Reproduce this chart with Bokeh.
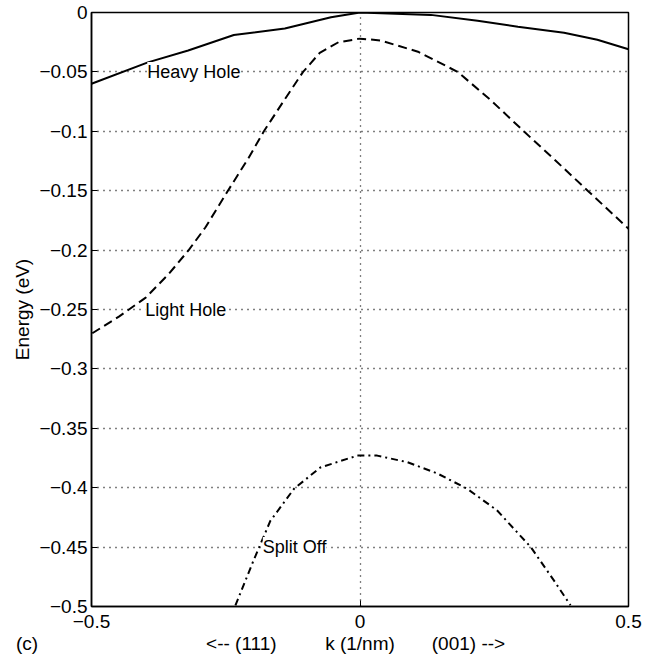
from bokeh.plotting import figure
from bokeh.models import FixedTicker, Label, Range1d, LinearAxis
from bokeh.embed import file_html
from bokeh.resources import INLINE

# ---- data ----
hh_k = [-0.5, -0.395, -0.32, -0.235, -0.14, -0.054, 0.0, 0.132, 0.219, 0.294, 0.38, 0.442, 0.5]
hh_E = [-0.060, -0.042, -0.032, -0.019, -0.0135, -0.004, 0.0, -0.002, -0.007, -0.012, -0.017, -0.023, -0.031]

lh_k = [-0.4985, -0.449, -0.399, -0.356, -0.319, -0.288, -0.250, -0.207, -0.179, -0.140, -0.106,
        -0.075, -0.040, 0.0, 0.038, 0.108, 0.182, 0.244, 0.305, 0.365, 0.424, 0.5]
lh_E = [-0.270, -0.256, -0.240, -0.220, -0.200, -0.181, -0.153, -0.122, -0.100, -0.073, -0.050,
        -0.034, -0.025, -0.022, -0.0235, -0.033, -0.050, -0.074, -0.100, -0.125, -0.150, -0.182]

so_k = [-0.232, -0.198, -0.167, -0.123, -0.074, -0.005, 0.032, 0.088, 0.144, 0.200, 0.255, 0.318, 0.361, 0.392]
so_E = [-0.499, -0.461, -0.428, -0.401, -0.383, -0.373, -0.373, -0.3785, -0.388, -0.401, -0.419, -0.450, -0.478, -0.499]

y_ticks = [0, -0.05, -0.1, -0.15, -0.2, -0.25, -0.3, -0.35, -0.4, -0.45, -0.5]
y_tick_labels = ["0", "\u22120.05", "\u22120.1", "\u22120.15", "\u22120.2", "\u22120.25",
                 "\u22120.3", "\u22120.35", "\u22120.4", "\u22120.45", "\u22120.5"]
x_ticks = [-0.5, 0, 0.5]
x_tick_labels = ["\u22120.5", "0", "0.5"]

# second row under the x axis: direction arrows and the axis title
x_row2_pos = [-0.221, 0.0, 0.202]
x_row2_text = ["<-- (111)", "k (1/nm)", "(001) -->"]

band_names = ["Heavy Hole", "Light Hole", "Split Off"]
band_label_k = [-0.396, -0.400, -0.181]
band_label_E = [-0.05, -0.25, -0.45]

panel_label = "(c)"
panel_label_k = -0.620
panel_label_E = -0.531

FONT = "Liberation Sans"
FS = "19px"

p = figure(width=656, height=661, output_backend="svg", toolbar_location=None,
           x_range=Range1d(-0.5, 0.5), y_range=Range1d(-0.5, 0.0),
           min_border_left=91, min_border_right=28, min_border_top=12, min_border_bottom=55)
p.background_fill_color = "white"
p.border_fill_color = "white"
p.outline_line_color = "black"
p.outline_line_width = 1.5

for ax in (p.xaxis[0], p.yaxis[0]):
    ax.axis_line_width = 1.5
    ax.major_tick_in = 6
    ax.major_tick_out = 0
    ax.minor_tick_in = 0
    ax.minor_tick_out = 0
    ax.major_label_text_font = FONT
    ax.major_label_text_font_size = FS
    ax.major_label_text_color = "black"
    ax.axis_label_text_font = FONT
    ax.axis_label_text_font_size = FS
    ax.axis_label_text_font_style = "normal"
    ax.axis_label_text_color = "black"

p.yaxis.ticker = FixedTicker(ticks=y_ticks)
p.yaxis.major_label_overrides = dict(zip(y_ticks, y_tick_labels))
p.yaxis.major_label_standoff = 4
p.yaxis.axis_label = "Energy (eV)"
p.yaxis.axis_label_standoff = 3

p.xaxis.ticker = FixedTicker(ticks=x_ticks)
p.xaxis.major_label_overrides = dict(zip(x_ticks, x_tick_labels))
p.xaxis.major_label_standoff = 8

row2 = LinearAxis(ticker=FixedTicker(ticks=x_row2_pos),
                  major_label_overrides=dict(zip(x_row2_pos, x_row2_text)),
                  axis_line_color=None, major_tick_line_color=None, minor_tick_line_color=None,
                  major_tick_in=0, major_tick_out=0, minor_tick_in=0, minor_tick_out=0,
                  major_label_standoff=2, major_label_text_font=FONT,
                  major_label_text_font_size=FS, major_label_text_color="black")
p.add_layout(row2, "below")

# grid
p.ygrid.ticker = FixedTicker(ticks=y_ticks[1:-1])
p.xgrid.ticker = FixedTicker(ticks=[0])
for g in (p.xgrid[0], p.ygrid[0]):
    g.grid_line_color = "black"
    g.grid_line_dash = "1 5"
    g.grid_line_width = 1.3
    g.grid_line_alpha = 1.0

# curves
p.line(hh_k, hh_E, line_color="black", line_width=2)
p.line(lh_k, lh_E, line_color="black", line_width=2, line_dash="9 5")
p.line(so_k, so_E, line_color="black", line_width=2, line_dash="7 4 2 4")

# band labels with white background masking the grid
for name, kx, ey in zip(band_names, band_label_k, band_label_E):
    p.add_layout(Label(x=kx, y=ey, text=name, text_font=FONT, text_font_size="18px",
                       text_align="left", text_baseline="middle", text_color="black",
                       background_fill_color="white", background_fill_alpha=1.0))

# panel tag "(c)" lives in a side panel so it is not clipped to the frame
p.add_layout(Label(x=panel_label_k, y=panel_label_E, text=panel_label, text_font=FONT,
                   text_font_size=FS, text_align="center", text_baseline="middle",
                   text_color="black"), "right")

open("out.html", "w").write(file_html(p, INLINE))
